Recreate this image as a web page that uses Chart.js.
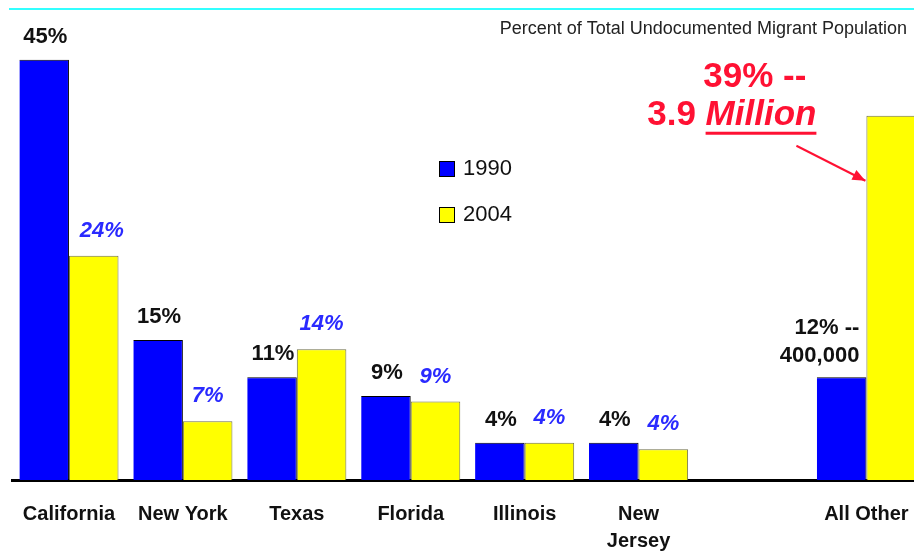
<!DOCTYPE html>
<html>
<head>
<meta charset="utf-8">
<script src="https://cdn.jsdelivr.net/npm/chart.js@4.4.1/dist/chart.umd.min.js"></script>
<style>
  html, body { margin: 0; padding: 0; background: #fff; overflow: hidden; }
  #wrap { position: relative; width: 914px; height: 551px; overflow: hidden; }
  #topRule { position: absolute; left: 9px; top: 8px; width: 905px; height: 2px; background: #33ffff; }
  canvas { position: absolute; left: 0; top: 0; }
</style>
</head>
<body>
<div id="wrap">
  <canvas id="barChart" width="930" height="551"></canvas>
  <div id="topRule"></div>
</div>
<script>
const categories = ['California', 'New York', 'Texas', 'Florida', 'Illinois', ['New', 'Jersey'], '', 'All Other'];
const seriesNames = ['1990', '2004'];
const values1990 = [45, 15, 11, 9, 4, 4, null, 11];
const values2004 = [24, 6.3, 14, 8.4, 4, 3.3, null, 39];
const labels1990 = ['45%', '15%', '11%', '9%', '4%', '4%', '', ['12% --', '400,000']];
const labels2004 = ['24%', '7%', '14%', '9%', '4%', '4%', '', ''];
const calloutLines = ['39% --', '3.9', 'Million'];
const chartNote = 'Percent of Total Undocumented Migrant Population';

const FONT = '"Liberation Sans", Arial, sans-serif';
const RED = '#ff1133';

// draws the value labels, the legend, the note and the red callout
const annotatePlugin = {
  id: 'annotate',
  afterDatasetsDraw(chart) {
    const ctx = chart.ctx;
    const area = chart.chartArea;
    ctx.save();

    // value labels above the bars
    const m0 = chart.getDatasetMeta(0);
    const m1 = chart.getDatasetMeta(1);
    ctx.textBaseline = 'middle';
    m0.data.forEach((bar, i) => {
      const lbl = labels1990[i];
      if (!lbl || values1990[i] == null) return;
      ctx.fillStyle = '#111';
      ctx.font = 'bold 22px ' + FONT;
      if (Array.isArray(lbl)) {
        ctx.textAlign = 'right';
        const xr = bar.x + bar.width / 2 - 7;
        ctx.fillText(lbl[0], xr, bar.y - 49);
        ctx.fillText(lbl[1], xr, bar.y - 21);
      } else {
        ctx.textAlign = 'center';
        ctx.fillText(lbl, bar.x + 1, bar.y - 23);
      }
    });
    m1.data.forEach((bar, i) => {
      const lbl = labels2004[i];
      if (!lbl || values2004[i] == null) return;
      ctx.fillStyle = '#2a2aff';
      ctx.font = 'italic bold 22px ' + FONT;
      ctx.textAlign = 'center';
      ctx.fillText(lbl, bar.x + (i === 0 ? 8 : 0), bar.y - 25);
    });

    // legend
    const lx = area.left + 427;
    const rows = [[169, chart.data.datasets[0]], [215, chart.data.datasets[1]]];
    rows.forEach(([cy, ds]) => {
      ctx.fillStyle = ds.backgroundColor;
      ctx.fillRect(lx, cy - 8, 16, 16);
      ctx.strokeStyle = '#000';
      ctx.lineWidth = 1;
      ctx.strokeRect(lx + 0.5, cy - 7.5, 15, 15);
      ctx.fillStyle = '#111';
      ctx.font = '22px ' + FONT;
      ctx.textAlign = 'left';
      ctx.fillText(ds.label, lx + 24, cy);
    });

    // note in the top right
    ctx.fillStyle = '#222';
    ctx.font = '18px ' + FONT;
    ctx.textAlign = 'right';
    ctx.fillText(chartNote, 907, 29);

    // red callout pointing at the 2004 "All Other" bar
    const target = m1.data[7];
    const left = target.x - target.width / 2;
    const top = target.y;
    ctx.fillStyle = RED;
    ctx.strokeStyle = RED;
    ctx.font = 'bold 35px ' + FONT;
    ctx.textAlign = 'right';
    ctx.fillText(calloutLines[0], left - 60, top - 38);

    ctx.font = 'bold italic 35px ' + FONT;
    const millionW = ctx.measureText(calloutLines[2]).width;
    const mRight = left - 50;
    ctx.fillText(calloutLines[2], mRight, top);
    ctx.font = 'bold 35px ' + FONT;
    ctx.fillText(calloutLines[1] + ' ', mRight - millionW, top);
    ctx.fillRect(mRight - millionW, top + 16, millionW, 3);

    // arrow
    const x1 = left - 70, y1 = top + 30, x2 = left - 1, y2 = top + 65;
    ctx.lineWidth = 2;
    ctx.beginPath();
    ctx.moveTo(x1, y1);
    ctx.lineTo(x2, y2);
    ctx.stroke();
    const ang = Math.atan2(y2 - y1, x2 - x1);
    ctx.beginPath();
    ctx.moveTo(x2, y2);
    ctx.lineTo(x2 - 14 * Math.cos(ang - 0.4), y2 - 14 * Math.sin(ang - 0.4));
    ctx.lineTo(x2 - 14 * Math.cos(ang + 0.4), y2 - 14 * Math.sin(ang + 0.4));
    ctx.closePath();
    ctx.fill();

    ctx.restore();
  }
};

new Chart(document.getElementById('barChart'), {
  type: 'bar',
  data: {
    labels: categories,
    datasets: [
      {
        label: seriesNames[0],
        data: values1990,
        backgroundColor: '#0000ff',
        borderColor: '#000000',
        borderWidth: { top: 1, right: 1, left: 0, bottom: 0 },
        categoryPercentage: 0.87,
        barPercentage: 1.0
      },
      {
        label: seriesNames[1],
        data: values2004,
        backgroundColor: '#ffff00',
        borderColor: '#6f6f4a',
        borderWidth: { top: 1, right: 1, left: 1, bottom: 0 },
        categoryPercentage: 0.87,
        barPercentage: 1.0
      }
    ]
  },
  options: {
    responsive: false,
    animation: false,
    layout: { padding: { left: 12, right: 6, top: 13, bottom: 0 } },
    plugins: {
      legend: { display: false },
      tooltip: { enabled: false }
    },
    scales: {
      x: {
        grid: { display: false, drawTicks: false },
        border: { display: true, color: '#000', width: 3 },
        ticks: {
          color: '#111',
          font: { family: FONT, size: 20, weight: 'bold', lineHeight: 1.35 },
          padding: 21,
          maxRotation: 0,
          autoSkip: false
        },
        afterFit(scale) { scale.height = 71; }
      },
      y: {
        display: false,
        min: 0,
        max: 50
      }
    }
  },
  plugins: [annotatePlugin]
});
</script>
</body>
</html>
